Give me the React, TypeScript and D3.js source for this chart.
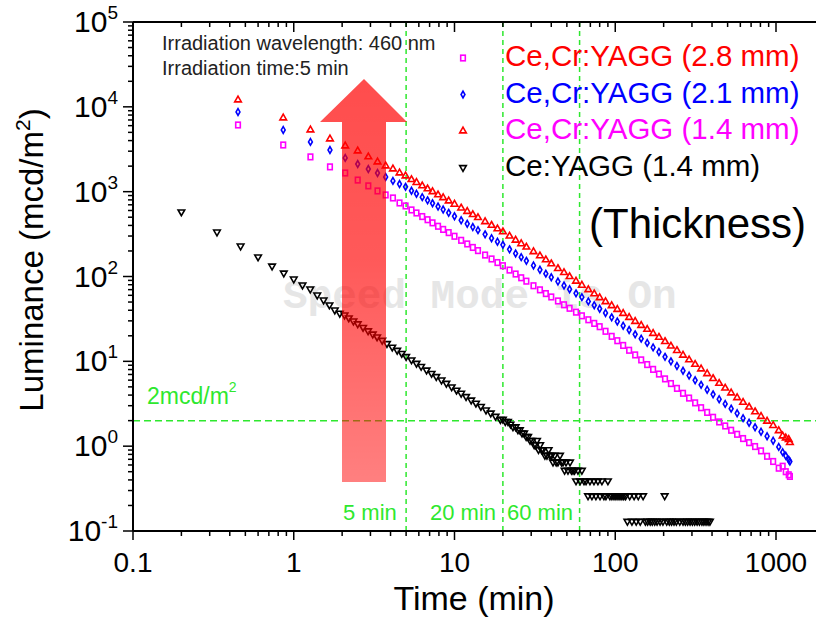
import React from "react";
import * as d3 from "d3";

// ---------- data ----------
const crTimes = [0.45, 0.86, 1.27, 1.68, 2.09, 2.5, 2.91, 3.32, 3.73, 4.14, 4.55, 4.96,
  5.4, 5.8, 6.3, 6.8, 7.3, 7.9, 8.5, 9.2, 10, 11, 12, 13, 14, 15.5, 17, 18.5, 20,
  22, 24, 26, 28, 31, 34, 37, 40, 44, 48, 52, 57, 62, 68, 74, 80, 87, 95, 103, 112,
  122, 133, 145, 158, 172, 187, 204, 222, 242, 264, 288, 314, 342, 373, 406, 443,
  483, 526, 573, 624, 680, 741, 807, 880, 960, 1040, 1100, 1150, 1200, 1220];

const red28 = [12050, 7400, 5340, 4180, 3460, 3020, 2570, 2240, 2010, 1850, 1660, 1530,
  1386, 1281, 1171, 1079, 998, 917, 848, 777, 710, 641, 584, 536, 494, 442, 401, 364, 336,
  299, 268, 243, 222, 196, 175, 157, 141, 124, 111, 99.6, 88.1, 78.8, 69.8, 62.4, 56.2,
  50.5, 45.2, 40.9, 36.7, 32.9, 29.5, 26.5, 23.8, 21.3, 19.2, 17.1, 15.1, 13.4, 11.8,
  10.4, 9.21, 8.13, 7.14, 6.26, 5.5, 4.83, 4.24, 3.73, 3.28, 2.89, 2.54, 2.24, 1.97,
  1.75, 1.52, 1.32, 1.25, 1.2, 1.1];

const blue21 = [8700, 5340, 3860, 3100, 2500, 2120, 1850, 1660, 1490, 1340, 1230, 1140,
  1025, 945, 862, 790, 730, 668, 615, 563, 513, 460, 418, 383, 352, 314, 283, 257, 236,
  209, 187, 169, 153, 135, 120, 108, 98.0, 87.2, 78.2, 70.9, 63.3, 57.1, 50.9, 45.9, 41.7,
  37.2, 33.0, 29.5, 26.3, 23.4, 20.8, 18.5, 16.5, 14.6, 12.9, 11.3, 9.99, 8.8, 7.74,
  6.8, 5.98, 5.28, 4.63, 4.08, 3.58, 3.15, 2.77, 2.44, 2.14, 1.89, 1.67, 1.48, 1.31,
  1.16, 0.98, 0.85, 0.77, 0.69, 0.66];

const magenta14 = [6110, 3550, 2570, 1960, 1660, 1370, 1170, 1020, 915, 843, 736, 679,
  609, 561, 509, 467, 429, 391, 359, 329, 298, 267, 242, 220, 202, 179, 161, 146, 134,
  119, 107, 96.6, 88.1, 77.8, 69.6, 62.9, 57.4, 51.5, 46.4, 42.2, 38.0, 34.4, 30.9, 28.0,
  25.6, 22.6, 19.7, 17.5, 15.4, 13.5, 11.9, 10.4, 9.16, 8.04, 7.08, 6.21, 5.47, 4.8,
  4.2, 3.69, 3.24, 2.84, 2.5, 2.19, 1.93, 1.73, 1.54, 1.38, 1.23, 1.1, 0.99, 0.88, 0.76,
  0.66, 0.55, 0.58, 0.5, 0.46, 0.44];

const ceTimes = [0.2, 0.333, 0.467, 0.6, 0.733, 0.867, 1.0, 1.133, 1.267, 1.4, 1.533, 1.667,
  1.8, 1.933, 2.07, 2.2, 2.35, 2.5, 2.7, 2.9, 3.1, 3.3, 3.55, 3.8, 4.1, 4.4, 4.7, 5.0, 5.4,
  5.8, 6.2, 6.7, 7.2, 7.7, 8.3, 8.9, 9.6, 10.3, 11, 11.8, 12.7, 13.6, 14.6, 15.7, 16.8,
  18, 19.3];
const ceValues = [577, 335, 229, 170, 133, 110, 93.5, 79.5, 71.3, 60.6, 52.9, 46.2, 40.3,
  36.9, 35.2, 32.5, 29.9, 27.7, 25.1, 22.9, 21.0, 19.4, 17.7, 16.2, 14.7, 13.5, 12.4,
  11.4, 10.4, 9.49, 8.72, 7.89, 7.21, 6.61, 6.03, 5.51, 5.0, 4.57, 4.21, 3.85, 3.5, 3.21,
  2.94, 2.67, 2.46, 2.25, 2.06];
const ceTailTimes = [20.0, 20.7, 21.5, 22.3, 23.1, 24.0, 24.8, 25.5, 26.3, 27.1,
  27.9, 28.7, 29.5, 30.4, 31.3, 32.0, 32.6, 33.3, 34.1, 34.8,
  35.5, 36.5, 37.6, 38.5, 39.3, 40.1, 41.0, 42.0, 42.9, 44.0,
  45.3, 46.3, 47.3, 48.4, 49.4, 50.8, 52.3, 53.4, 54.6, 55.8,
  57.0, 58.6, 60.4, 62.0, 63.9, 65.8, 67.7, 69.6, 71.6, 73.7,
  75.8, 78.0, 80.4, 82.6, 85.0, 87.5, 90.0, 92.6, 95.3, 98.2,
  101, 104, 107, 110, 113, 116, 119, 123, 127, 131,
  135, 139, 143, 149, 154, 159, 165, 170, 176, 182,
  190, 198, 203, 209, 217, 224, 232, 240, 252, 264,
  273, 282, 292, 302, 312, 323, 334, 346, 356, 367, 378, 388];
const ceTailValues = [2.08, 1.95, 1.95, 1.82, 1.69, 1.69, 1.56, 1.56, 1.43, 1.43,
  1.30, 1.30, 1.17, 1.17, 1.04, 1.04, 1.17, 0.91, 1.04, 0.91,
  0.91, 0.78, 0.78, 0.91, 0.78, 0.78, 0.65, 0.78, 0.65, 0.65,
  0.78, 0.65, 0.65, 0.52, 0.65, 0.52, 0.65, 0.52, 0.52, 0.52,
  0.39, 0.52, 0.39, 0.52, 0.39, 0.39, 0.26, 0.39, 0.26, 0.39,
  0.26, 0.39, 0.26, 0.39, 0.26, 0.26, 0.39, 0.26, 0.26, 0.26,
  0.26, 0.26, 0.26, 0.26, 0.26, 0.26, 0.13, 0.26, 0.13, 0.26,
  0.13, 0.26, 0.13, 0.26, 0.13, 0.13, 0.13, 0.13, 0.13, 0.13,
  0.13, 0.13, 0.26, 0.13, 0.13, 0.13, 0.13, 0.13, 0.13, 0.13,
  0.13, 0.13, 0.13, 0.13, 0.13, 0.13, 0.13, 0.13, 0.13, 0.13, 0.13, 0.13];

const legendLabels = ["Ce,Cr:YAGG (2.8 mm)", "Ce,Cr:YAGG (2.1 mm)", "Ce,Cr:YAGG (1.4 mm)", "Ce:YAGG (1.4 mm)"];
const legendTextColors = ["#ff0000", "#0000ff", "#ff00ff", "#000000"];
const legendMarkerColors = ["#ff00ff", "#0000ff", "#ff0000", "#000000"];
const legendMarkers = ["square", "diamond", "triUp", "triDown"];

const xTickLabels = ["0.1", "1", "10", "100", "1000"];
const xTickValues = [0.1, 1, 10, 100, 1000];
const yTickExps = [-1, 0, 1, 2, 3, 4, 5];
const markTimes = [5, 20, 60];
const markLabels = ["5 min", "20 min", "60 min"];
const markLabelX = [343, 430, 507];
const threshold = 2;

const FONT = "'Liberation Sans', Arial, Helvetica, sans-serif";
const GREEN = "#2ee82e";

const triPath = d3.symbol(d3.symbolTriangle, 19)() as string;
const diamondPath = d3.symbol(d3.symbolDiamond, 13)() as string;

function Marker({ kind, cx, cy, color }: { kind: string; cx: number; cy: number; color: string }) {
  const sw = 1.6;
  if (kind === "square")
    return <rect x={cx - 2.3} y={cy - 2.8} width={4.6} height={5.6} fill="none" stroke={color} strokeWidth={sw} />;
  if (kind === "diamond")
    return <path d={diamondPath} transform={`translate(${cx},${cy})`} fill="none" stroke={color} strokeWidth={sw} />;
  if (kind === "triUp")
    return <path d={triPath} transform={`translate(${cx},${cy})`} fill="none" stroke={color} strokeWidth={sw} />;
  return <path d={triPath} transform={`translate(${cx},${cy}) rotate(180)`} fill="none" stroke={color} strokeWidth={sw} />;
}

export default function App() {
  const L = 133, T = 22, B = 531, R = 816;
  const x = d3.scaleLog().domain([0.1, 1000]).range([L, 776]);
  const y = d3.scaleLog().domain([0.1, 1e5]).range([B, T]);

  const xTicks: { v: number; major: boolean }[] = [];
  for (let e = -1; e <= 3; e++)
    for (let m = 1; m <= 9; m++) {
      const v = m * Math.pow(10, e);
      if (x(v) <= R) xTicks.push({ v, major: m === 1 });
    }
  const yTicks: { v: number; major: boolean }[] = [];
  for (let e = -1; e <= 4; e++)
    for (let m = 1; m <= 9; m++) yTicks.push({ v: m * Math.pow(10, e), major: m === 1 });
  yTicks.push({ v: 1e5, major: true });

  const series = [
    { times: ceTimes.concat(ceTailTimes), values: ceValues.concat(ceTailValues), color: "#000000", kind: "triDown" },
    { times: crTimes, values: magenta14, color: "#ff00ff", kind: "square" },
    { times: crTimes, values: blue21, color: "#0000ff", kind: "diamond" },
    { times: crTimes, values: red28, color: "#ff0000", kind: "triUp" },
  ];

  const arrowPath = "M342,482 L342,122 L320,122 L364,79 L407,122 L386,122 L386,482 Z";

  return (
    <svg width={816} height={621} style={{ position: "absolute", left: 0, top: 0 }} fontFamily={FONT}>
      <defs>
        <linearGradient id="arrowGrad" x1="0" y1="0" x2="0" y2="1">
          <stop offset="0" stopColor="#ff0000" stopOpacity={0.7} />
          <stop offset="0.45" stopColor="#ff0000" stopOpacity={0.65} />
          <stop offset="1" stopColor="#ff0000" stopOpacity={0.5} />
        </linearGradient>
        <clipPath id="plotClip">
          <rect x={L} y={T} width={R - L} height={B - T} />
        </clipPath>
      </defs>
      <rect x={0} y={0} width={816} height={621} fill="#ffffff" />

      {/* watermark */}
      <text x={283} y={308} fontFamily="'Liberation Mono', 'Courier New', monospace" fontWeight="bold" fontSize={41} fill="#e6e6e6">
        Speed Mode is On
      </text>

      {/* reference lines */}
      {markTimes.map((t) => (
        <line key={t} x1={x(t)} x2={x(t)} y1={T} y2={B} stroke={GREEN} strokeWidth={1.5} strokeDasharray="5,4" />
      ))}
      <line x1={L} x2={R} y1={y(threshold)} y2={y(threshold)} stroke={GREEN} strokeWidth={1.5} strokeDasharray="7,4" />

      {/* data */}
      <g clipPath="url(#plotClip)">
        {series.map((s, si) => (
          <g key={si}>
            {s.times.map((t, i) => (
              <Marker key={i} kind={s.kind} cx={x(t)} cy={y(s.values[i])} color={s.color} />
            ))}
          </g>
        ))}
      </g>

      {/* axes */}
      <g stroke="#000" strokeWidth={1.5} fill="none">
        <line x1={L} x2={R} y1={B} y2={B} strokeWidth={2} />
        <line x1={L} x2={L} y1={T} y2={B} strokeWidth={2} />
        <line x1={L} x2={R} y1={T} y2={T} strokeWidth={2} />
        {xTicks.map((t, i) => (
          <g key={i}>
            <line x1={x(t.v)} x2={x(t.v)} y1={B} y2={B + (t.major ? 9 : 5)} />
            <line x1={x(t.v)} x2={x(t.v)} y1={T} y2={T + (t.major ? 10 : 5)} />
          </g>
        ))}
        {yTicks.map((t, i) => (
          <line key={i} x1={L - (t.major ? 10 : 5)} x2={L} y1={y(t.v)} y2={y(t.v)} />
        ))}
      </g>

      {/* tick labels */}
      {xTickValues.map((v, i) => (
        <text key={v} x={x(v)} y={572} textAnchor="middle" fontSize={28} fill="#000">
          {xTickLabels[i]}
        </text>
      ))}
      {yTickExps.map((e) => (
        <text key={e} x={118} y={y(Math.pow(10, e)) + 10} textAnchor="end" fontSize={30} fill="#000">
          10<tspan dy={-13} fontSize={19}>{e}</tspan>
        </text>
      ))}

      {/* axis titles */}
      <text x={474} y={610} textAnchor="middle" fontSize={34} fill="#000">Time (min)</text>
      <text transform="translate(43,260) rotate(-90)" textAnchor="middle" fontSize={33} fill="#000">
        Luminance (mcd/m<tspan dy={-13} fontSize={21}>2</tspan><tspan dy={13}>)</tspan>
      </text>

      {/* annotations */}
      <text x={162} y={50} fontSize={20} fill="#222">Irradiation wavelength: 460 nm</text>
      <text x={162} y={75} fontSize={20} fill="#222">Irradiation time:5 min</text>

      {/* legend */}
      {legendLabels.map((lab, i) => (
        <g key={lab}>
          <Marker kind={legendMarkers[i]} cx={463} cy={58 + i * 36.5} color={legendMarkerColors[i]} />
          <text x={505} y={66 + i * 36.7} fontSize={29.5} fill={legendTextColors[i]}>{lab}</text>
        </g>
      ))}
      <text x={589} y={238} fontSize={42} fill="#000">(Thickness)</text>

      {/* green labels */}
      <text x={147} y={404} fontSize={23} fill={GREEN}>
        2mcd/m<tspan dy={-12} fontSize={14}>2</tspan>
      </text>
      {markLabels.map((lab, i) => (
        <text key={lab} x={markLabelX[i]} y={520} fontSize={22} fill={GREEN}>{lab}</text>
      ))}

      {/* arrow */}
      <path d={arrowPath} fill="url(#arrowGrad)" />
    </svg>
  );
}
